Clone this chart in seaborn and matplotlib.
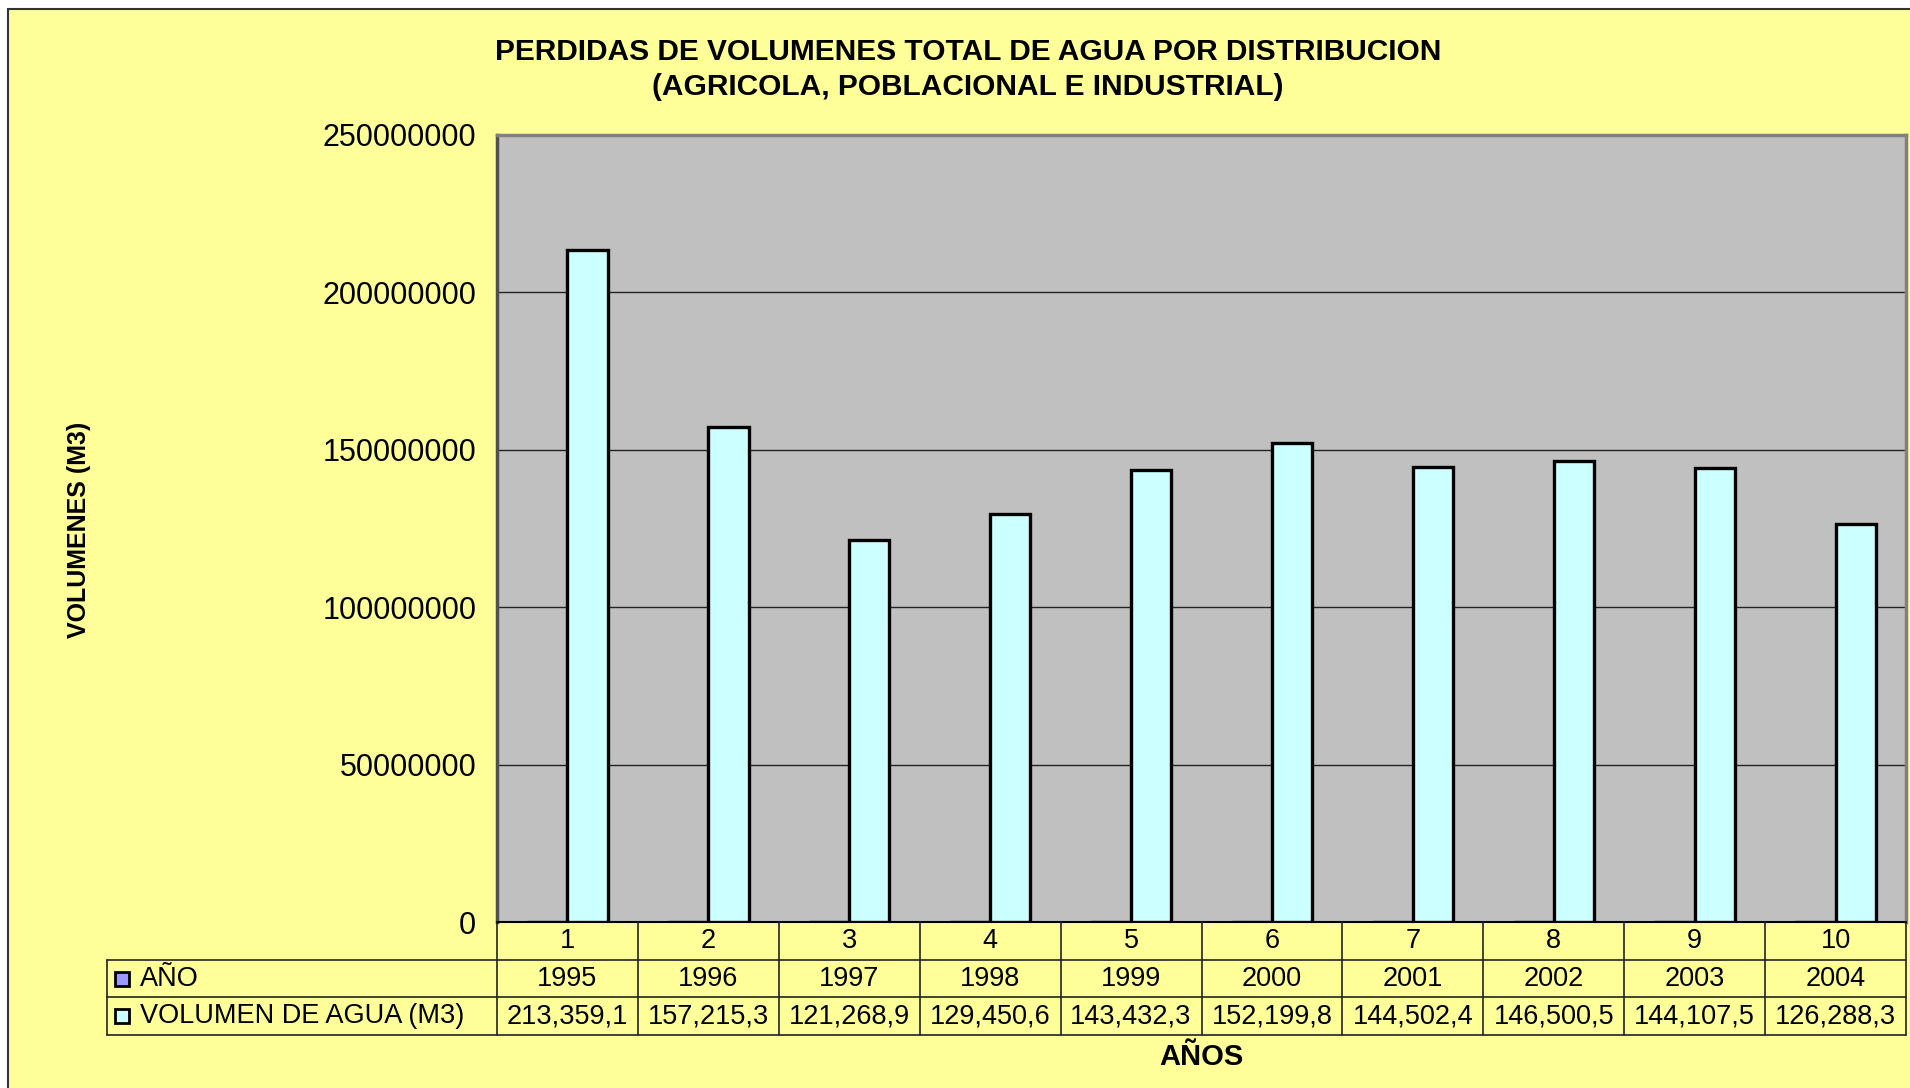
import pandas as pd
import matplotlib
matplotlib.use("Agg")
import matplotlib.pyplot as plt
import seaborn as sns
from matplotlib.patches import Rectangle

# data
categorias = [1, 2, 3, 4, 5, 6, 7, 8, 9, 10]
anios = [1995, 1996, 1997, 1998, 1999, 2000, 2001, 2002, 2003, 2004]
volumen = [213359100, 157215300, 121268900, 129450600, 143432300,
           152199800, 144502400, 146500500, 144107500, 126288300]
series = ["AÑO", "VOLUMEN DE AGUA (M3)"]
colores = {"AÑO": "#9999FF", "VOLUMEN DE AGUA (M3)": "#CCFFFF"}
yticks = [0, 50000000, 100000000, 150000000, 200000000, 250000000]

W, H = 1910, 1088
YELLOW = "#FFFF99"

sns.set_style("white")
plt.rcParams["font.family"] = ["Liberation Sans", "DejaVu Sans"]
plt.rcParams["text.color"] = "black"
plt.rcParams["ytick.color"] = "black"
plt.rcParams["ytick.labelcolor"] = "black"

# long format for seaborn (both series, like the Excel chart)
df = pd.DataFrame({
    "cat": [str(c) for c in categorias] * 2,
    "serie": [series[0]] * len(categorias) + [series[1]] * len(categorias),
    "valor": anios + volumen,
})

fig = plt.figure(figsize=(W / 100, H / 100), dpi=100, facecolor="white")

# outer chart frame
fig.patches.append(Rectangle((8 / W, -0.01), 1.0, 1 - 9 / H + 0.01,
                             transform=fig.transFigure, facecolor=YELLOW,
                             edgecolor="#333333", linewidth=1.5, zorder=-10))

# plot area in pixels
px_l, px_r, px_t, px_b = 497, 1906, 135, 922
ax = fig.add_axes([px_l / W, 1 - px_b / H, (px_r - px_l) / W, (px_b - px_t) / H])
ax.set_facecolor("#C0C0C0")

sns.barplot(data=df, x="cat", y="valor", hue="serie", order=[str(c) for c in categorias],
            hue_order=series, palette=colores, saturation=1, width=0.571,
            edgecolor="black", linewidth=2.4, legend=False, ax=ax, zorder=3)

ax.set_xlim(-0.5, len(categorias) - 0.5)
ax.set_ylim(yticks[0], yticks[-1])
ax.set_yticks(yticks)
ax.set_yticklabels([f"{v:d}" for v in yticks], fontsize=22)
ax.tick_params(axis="y", direction="out", length=7, width=1.2, color="black", pad=8)
ax.set_xticks([])
ax.set_xlabel("")
ax.set_ylabel("")
ax.grid(axis="y", color="#222222", linewidth=1, zorder=1)
ax.set_axisbelow(True)
for side in ["top", "right"]:
    ax.spines[side].set_color("#808080")
    ax.spines[side].set_linewidth(2.5)
ax.spines["left"].set_color("#505050")
ax.spines["left"].set_linewidth(2.5)
ax.spines["bottom"].set_color("black")
ax.spines["bottom"].set_linewidth(1.5)

# titles
fig.text(968 / W, 1 - 52 / H, "PERDIDAS DE VOLUMENES TOTAL DE AGUA POR DISTRIBUCION",
         ha="center", va="center", fontsize=21.5, fontweight="bold")
fig.text(968 / W, 1 - 87 / H, "(AGRICOLA, POBLACIONAL E INDUSTRIAL)",
         ha="center", va="center", fontsize=21.5, fontweight="bold")
fig.text(79 / W, 1 - 530 / H, "VOLUMENES (M3)", rotation=90, ha="center", va="center",
         fontsize=18, fontweight="bold")
fig.text((px_l + px_r) / 2 / W, 1 - 1057 / H, "AÑOS", ha="center", va="center",
         fontsize=21, fontweight="bold")

# data table under the plot
tb_l, tb_b = 107, 1035
cat_w = (px_r - px_l) / len(categorias)
hdr = (px_l - tb_l) / cat_w
tax = fig.add_axes([tb_l / W, 1 - tb_b / H, (px_r - tb_l) / W, (tb_b - px_b) / H])
tax.set_xlim(-0.5 - hdr, len(categorias) - 0.5)
tax.set_ylim(3, 0)
tax.axis("off")
lc = "#222222"
for k in range(len(categorias) + 1):
    tax.plot([k - 0.5, k - 0.5], [0, 3], color=lc, lw=1.2, clip_on=False)
tax.plot([-0.5 - hdr, -0.5 - hdr], [1, 3], color=lc, lw=1.2, clip_on=False)
for r in [1, 2, 3]:
    tax.plot([-0.5 - hdr, len(categorias) - 0.5], [r, r], color=lc, lw=1.2, clip_on=False)

fila_vol = [f"{v:,}"[:9] for v in volumen]
for i, (c, a, v) in enumerate(zip(categorias, anios, fila_vol)):
    tax.text(i, 0.5, str(c), ha="center", va="center", fontsize=19.5)
    tax.text(i, 1.5, str(a), ha="center", va="center", fontsize=19.5)
    tax.text(i, 2.5, v, ha="center", va="center", fontsize=19.5)

def px2x(px):
    return (px - px_l) / cat_w - 0.5

for r, s in enumerate(series):
    tax.plot(px2x(122), r + 1.5, marker="s", markersize=10, markerfacecolor=colores[s],
             markeredgecolor="black", markeredgewidth=2, clip_on=False)
    tax.text(px2x(140), r + 1.5, s, ha="left", va="center", fontsize=19.5)

fig.savefig("out.png", dpi=100, facecolor="white")
